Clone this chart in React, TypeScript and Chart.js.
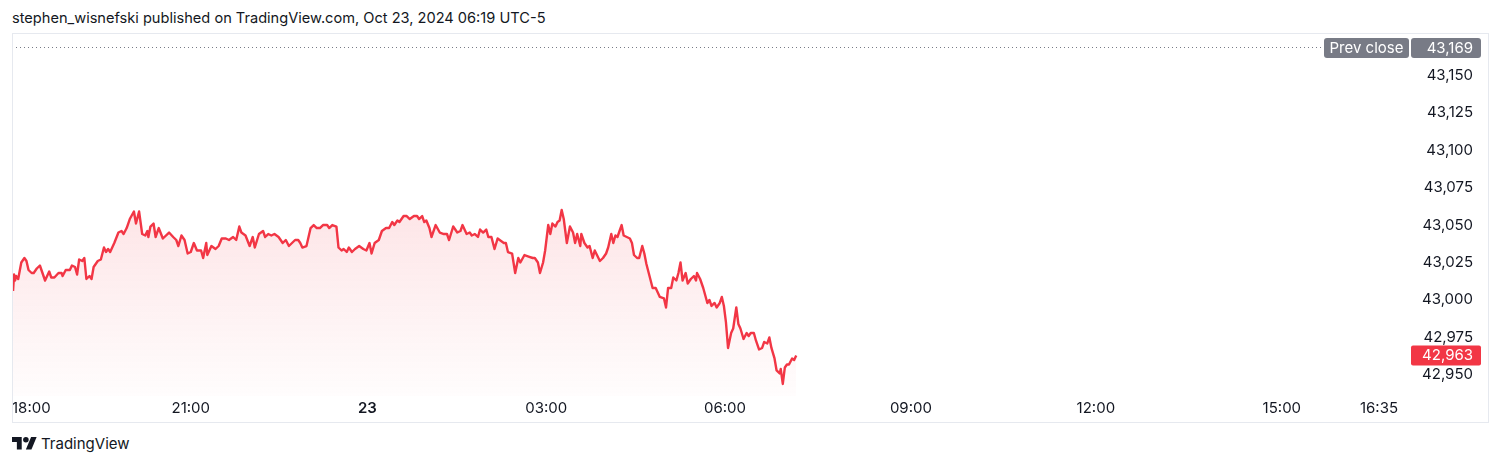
import React, { useEffect, useRef } from "react";
import { Chart, registerables } from "chart.js";

Chart.register(...registerables);

// 1-minute bar number since the 18:00 session open
const BARS: number[] = [
  0, 1, 2, 3, 5, 8, 11, 13, 15, 18, 20, 23, 26, 27, 30, 31, 35, 37, 40, 44, 47, 48, 51, 55, 57, 60, 62, 64, 67, 69,
  71, 74, 76, 78, 82, 85, 88, 90, 92, 94, 98, 102, 105, 107, 110, 113, 117, 119, 122, 125, 128, 130, 131, 133, 136,
  138, 141, 145, 151, 155, 158, 160, 163, 166, 169, 172, 175, 178, 182,
  184, 187, 188, 192, 196, 199, 202, 206, 209, 213, 216, 219, 221, 225, 229, 232, 234, 238, 242, 244, 247, 250, 253,
  257, 261, 264, 267, 270, 273, 276, 278, 280, 284, 286, 288, 291, 294, 297, 300, 304, 306, 309, 313, 315, 318, 320,
  323, 325, 328, 331, 335, 339, 342, 345, 347, 350, 354, 357, 361, 364, 367, 369, 372, 374,
  378, 381, 384, 388, 391, 393, 396, 398, 400, 403, 405, 409, 413, 417, 420, 422, 426, 430, 433, 435, 439, 442, 444,
  447, 450, 452, 455, 458, 460, 463, 466, 469, 471, 475, 477, 479, 483, 486, 489, 491, 495, 499, 503, 505, 508, 510,
  513, 515, 518, 520, 522, 525, 527, 529, 531, 533, 536, 539, 542, 544, 546, 549, 550, 553, 556, 558, 561, 563, 568,
  571, 574, 576, 579, 581, 583, 585, 587, 589, 591, 594, 597, 599, 601, 604, 606, 609, 611, 613, 616, 619, 622, 626,
  630, 632, 634, 637, 639, 642, 644, 646, 648, 651, 653, 656, 659, 661, 662, 665, 668, 672, 674, 676, 679, 681, 684,
  686, 688, 690, 692, 695, 697, 700, 702, 704, 707, 710, 712, 714, 717, 719, 722, 725, 727, 730, 732, 734, 737, 739,
  742, 743, 745, 747, 749, 751, 754, 756, 758,
];

const PRICES: number[] = [
  43006, 43017, 43013, 43016, 43014, 43025, 43028, 43026, 43020, 43018, 43018, 43021, 43023, 43021, 43015, 43013,
  43019, 43015, 43015, 43018, 43018, 43016, 43020, 43020, 43023, 43022, 43017, 43027, 43026, 43028,
  43014, 43016, 43014, 43022, 43026, 43027, 43035, 43032, 43034, 43032, 43038, 43045, 43046, 43044, 43048, 43054,
  43059, 43051, 43059, 43044, 43043, 43046, 43042, 43049, 43051,
  43042, 43048, 43041, 43045, 43042, 43040, 43036, 43043, 43040, 43031, 43032, 43038, 43033, 43033,
  43028, 43038, 43030, 43036, 43034, 43036, 43041, 43041, 43040, 43042, 43040, 43049, 43045, 43043, 43036, 43042,
  43035, 43044, 43046, 43042, 43044, 43043, 43044,
  43042, 43038, 43040, 43036, 43038, 43040, 43040, 43038, 43035, 43036, 43042, 43048, 43050, 43048, 43048, 43050,
  43050, 43048, 43050, 43049, 43035, 43033, 43034,
  43032, 43035, 43032, 43034, 43036, 43034, 43033, 43038, 43031, 43038, 43040, 43046, 43048, 43048, 43052, 43050,
  43053, 43052,
  43056, 43056, 43054, 43056, 43056, 43054, 43056, 43052, 43053, 43048, 43042, 43050, 43045, 43044, 43044, 43040,
  43049, 43045, 43046, 43050, 43044, 43045, 43043,
  43044, 43042, 43047, 43045, 43047, 43042, 43042, 43034, 43041, 43040, 43038, 43038, 43032, 43031, 43018, 43028,
  43025, 43030, 43029, 43028, 43028, 43025, 43018,
  43025, 43033, 43050, 43044, 43051, 43049, 43052, 43053, 43060, 43054, 43038, 43049, 43045, 43038, 43044, 43036,
  43044, 43038, 43035, 43036, 43028, 43033, 43026,
  43028, 43031, 43035, 43044, 43038, 43043, 43042, 43046, 43050, 43043, 43042, 43041, 43038, 43030, 43028, 43028,
  43036, 43031, 43024, 43016, 43008, 43008, 43002,
  43001, 42995, 43008, 43008, 43015, 43013, 43018, 43025, 43013, 43018, 43011, 43014, 43016, 43013, 43018, 43014,
  43008, 42998, 43000, 42996, 42998, 42995, 42998,
  43002, 42996, 42985, 42968, 42978, 42981, 42995, 42984, 42981, 42974, 42978, 42976, 42978, 42978, 42973, 42967,
  42968, 42972, 42971, 42975, 42968, 42961, 42953,
  42951, 42954, 42944, 42955, 42957, 42957, 42961, 42960, 42963,
];

const TIME_TICK_BARS: number[] = [0, 172, 343, 516, 689, 869, 1048, 1228, 1322];
const TIME_TICK_LABELS: string[] = ["18:00", "21:00", "23", "03:00", "06:00", "09:00", "12:00", "15:00", "16:35"];
const BOLD_TIME_LABELS: string[] = ["23"];
const PRICE_TICKS: number[] = [42950, 42975, 43000, 43025, 43050, 43075, 43100, 43125, 43150];
const PREV_CLOSE = 43169;
const LAST_PRICE = 42963;
const PREV_CLOSE_LABEL = "Prev close";
const TITLE = "stephen_wisnefski published on TradingView.com, Oct 23, 2024 06:19 UTC-5";
const BRAND = "TradingView";

const X_MIN = -1;
const X_MAX = 1353;
const Y_MIN = 42935.96;
const Y_MAX = 43178.07;

const FONT = "Inter, 'Noto Sans', sans-serif";
const TEXT = "#131722";
const RED = "#f23645";
const GREY = "#787b86";

const fmt = (v: number) => v.toLocaleString("en-US");

const overlayPlugin = {
  id: "tvOverlay",
  afterDraw(chart: any) {
    const { ctx, chartArea, scales } = chart;
    const xs = scales.x;
    const ys = scales.y;
    ctx.save();

    // time axis labels
    ctx.textBaseline = "middle";
    ctx.fillStyle = TEXT;
    const labelY = chartArea.bottom + 12;
    TIME_TICK_BARS.forEach((b, i) => {
      const label = TIME_TICK_LABELS[i];
      const bold = BOLD_TIME_LABELS.includes(label);
      ctx.font = `${bold ? 600 : 400} 15px ${FONT}`;
      const w = ctx.measureText(label).width;
      let cx = xs.getPixelForValue(b);
      cx = Math.max(cx, chartArea.left + w / 2);
      ctx.textAlign = "center";
      ctx.fillText(label, cx, labelY);
    });

    // prev close dotted line + labels
    const boxH = 20;
    const py = Math.round(ys.getPixelForValue(PREV_CLOSE));
    const box1W = 85;
    const box1R = ys.left - 2;
    const box1L = box1R - box1W;
    ctx.strokeStyle = GREY;
    ctx.lineWidth = 1;
    ctx.setLineDash([1, 3]);
    ctx.beginPath();
    ctx.moveTo(chartArea.left, py + 0.5);
    ctx.lineTo(box1L - 3, py + 0.5);
    ctx.stroke();
    ctx.setLineDash([]);

    ctx.fillStyle = GREY;
    ctx.beginPath();
    ctx.roundRect(box1L, py - boxH / 2 + 1, box1W, boxH, 3);
    ctx.fill();
    ctx.beginPath();
    ctx.roundRect(ys.left, py - boxH / 2 + 1, 70, boxH, 3);
    ctx.fill();
    ctx.fillStyle = "#ffffff";
    ctx.font = `400 15px ${FONT}`;
    ctx.textAlign = "center";
    ctx.fillText(PREV_CLOSE_LABEL, box1L + box1W / 2, py + 1.5);
    ctx.textAlign = "right";
    ctx.fillText(fmt(PREV_CLOSE), ys.right, py + 1.5);

    // last price label
    const ly = ys.getPixelForValue(LAST_PRICE);
    ctx.fillStyle = RED;
    ctx.beginPath();
    ctx.roundRect(ys.left, ly - boxH / 2, 70, boxH, 2);
    ctx.fill();
    ctx.fillStyle = "#ffffff";
    ctx.textAlign = "right";
    ctx.fillText(fmt(LAST_PRICE), ys.right, ly + 0.5);

    // frame
    ctx.strokeStyle = "#e6e9ef";
    ctx.lineWidth = 1;
    ctx.strokeRect(0.5, 0.5, chart.width - 1, chart.height - 1);
    ctx.restore();
  },
};

function TVChart() {
  const ref = useRef<HTMLCanvasElement | null>(null);
  useEffect(() => {
    if (!ref.current) return;
    const points = BARS.map((b, i) => ({ x: b, y: PRICES[i] }));
    const chart = new Chart(ref.current, {
      type: "line",
      data: {
        datasets: [
          {
            data: points,
            borderColor: RED,
            borderWidth: 2.4,
            borderJoinStyle: "round",
            pointRadius: 0,
            tension: 0,
            fill: "start",
            backgroundColor: (c: any) => {
              const ch = c.chart;
              const area = ch.chartArea;
              if (!area) return "rgba(242,54,69,0.08)";
              const top = ch.scales.y.getPixelForValue(Math.max(...PRICES));
              const g = ch.ctx.createLinearGradient(0, top, 0, area.bottom);
              g.addColorStop(0, "rgba(242,54,69,0.13)");
              g.addColorStop(1, "rgba(242,54,69,0.01)");
              return g;
            },
          },
        ],
      },
      options: {
        animation: false,
        responsive: false,
        maintainAspectRatio: false,
        layout: { padding: { left: 0, top: 0, right: 16, bottom: 27 } },
        plugins: { legend: { display: false }, tooltip: { enabled: false } },
        scales: {
          x: { type: "linear", min: X_MIN, max: X_MAX, display: false },
          y: {
            position: "right",
            min: Y_MIN,
            max: Y_MAX,
            grid: { display: false },
            border: { display: false },
            afterBuildTicks: (s: any) => {
              s.ticks = PRICE_TICKS.map((v) => ({ value: v }));
            },
            afterFit: (s: any) => {
              s.width = 62;
              s.paddingTop = 0;
              s.paddingBottom = 0;
            },
            ticks: {
              color: TEXT,
              font: { family: FONT, size: 15 },
              crossAlign: "far",
              padding: 0,
              callback: (v: any) => fmt(Number(v)),
            },
          },
        },
      },
      plugins: [overlayPlugin],
    });
    return () => chart.destroy();
  }, []);
  return (
    <canvas
      ref={ref}
      width={1477}
      height={390}
      style={{ position: "absolute", left: 12, top: 33, width: 1477, height: 390 }}
    />
  );
}

export default function App() {
  return (
    <div style={{ position: "absolute", left: 0, top: 0, width: 1500, height: 465, background: "#fff", fontFamily: FONT, color: TEXT }}>
      <div style={{ position: "absolute", left: 12, top: 8, fontSize: 14.6, lineHeight: "20px", whiteSpace: "nowrap" }}>{TITLE}</div>
      <TVChart />
      <div style={{ position: "absolute", left: 12, top: 434, height: 20, display: "flex", alignItems: "center" }}>
        <svg width="25" height="20" viewBox="0 0 36 28" style={{ display: "block" }}>
          <path d="M14 22H7V11H0V4h14v18z" fill={TEXT} />
          <path d="M28 22h-8l7.5-18h8L28 22z" fill={TEXT} />
          <circle cx="20" cy="8" r="4" fill={TEXT} />
        </svg>
        <span style={{ marginLeft: 4, fontSize: 15, fontWeight: 400, lineHeight: "20px" }}>{BRAND}</span>
      </div>
    </div>
  );
}
